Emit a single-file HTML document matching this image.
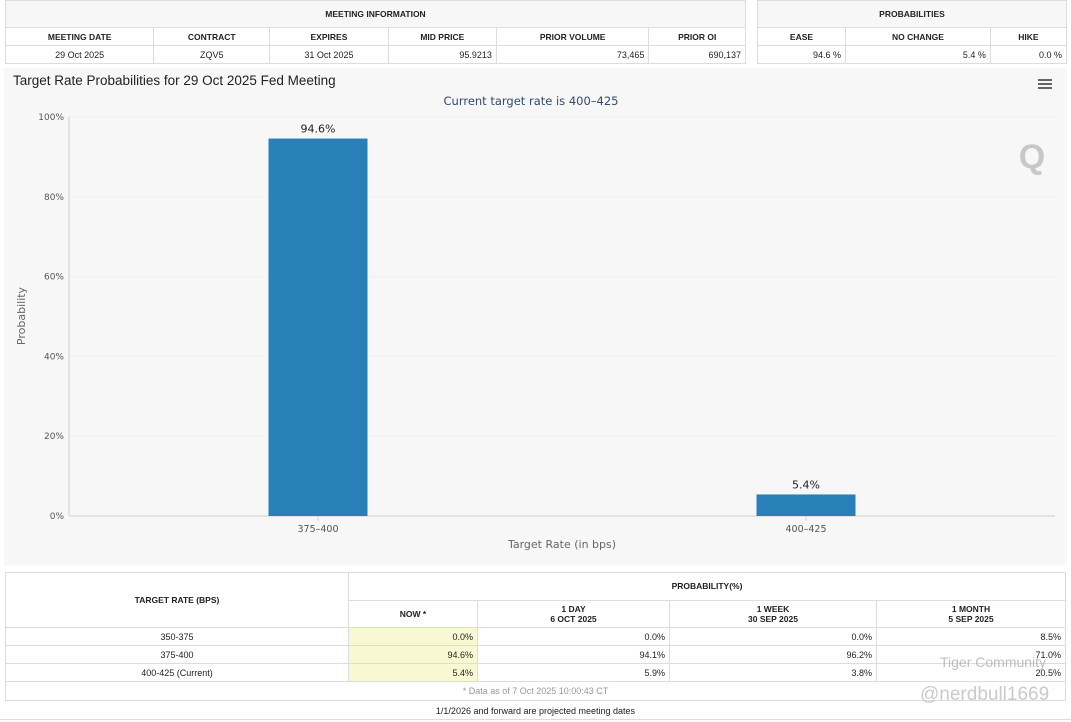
<!DOCTYPE html>
<html><head><meta charset="utf-8">
<style>
body{margin:0;width:1071px;height:722px;background:#fff;font-family:"Liberation Sans",Arial,sans-serif;position:relative;overflow:hidden}
table{border-collapse:collapse;position:absolute;font-size:9px;color:#222}
td{border:1px solid #ddd;padding:0 4px;height:17px}
.h{font-weight:bold;text-align:center;background:#fff;font-size:8.5px}
.r{text-align:right}.c{text-align:center}
.now{background:#f8f8d3}
#chart{position:absolute;left:4px;top:68px;width:1063px;height:497px;background:#f7f7f7}
</style></head><body>
<table style="left:5px;top:0;width:741px">
<tr><td class="h" colspan="6" style="height:26px;background:#f7f7f7">MEETING INFORMATION</td></tr>
<tr><td class="h">MEETING DATE</td><td class="h">CONTRACT</td><td class="h">EXPIRES</td><td class="h">MID PRICE</td><td class="h">PRIOR VOLUME</td><td class="h">PRIOR OI</td></tr>
<tr><td class="c">29 Oct 2025</td><td class="c">ZQV5</td><td class="c">31 Oct 2025</td><td class="r">95.9213</td><td class="r">73,465</td><td class="r">690,137</td></tr>
</table>
<table style="left:757px;top:0;width:310px">
<tr><td class="h" colspan="3" style="height:26px;background:#f7f7f7">PROBABILITIES</td></tr>
<tr><td class="h">EASE</td><td class="h">NO CHANGE</td><td class="h">HIKE</td></tr>
<tr><td class="r">94.6 %</td><td class="r">5.4 %</td><td class="r">0.0 %</td></tr>
</table>
<div id="chart">
<svg width="1063" height="497" id="svg" style="font-family:'DejaVu Sans',sans-serif">
<text x="9" y="17" font-size="13.5" fill="#222" font-family="Liberation Sans">Target Rate Probabilities for 29 Oct 2025 Fed Meeting</text>
<g><rect x="1034" y="11" width="14" height="2" fill="#666"/><rect x="1034" y="15" width="14" height="2" fill="#666"/><rect x="1034" y="19" width="14" height="2" fill="#666"/></g>
<text x="527" y="37" font-size="11.5" fill="#334a6b" text-anchor="middle">Current target rate is 400–425</text>
<text x="1028" y="100" font-size="34" font-weight="bold" fill="#c8c8c8" text-anchor="middle" font-family="Liberation Sans">Q</text>
<text transform="translate(21,248) rotate(-90)" font-size="11" fill="#666" text-anchor="middle">Probability</text>
<text x="558" y="480" font-size="11" fill="#666" text-anchor="middle">Target Rate (in bps)</text>
<g id="plot"></g>
</svg></div>
<table style="left:5px;top:572px;width:1061px">
<tr><td class="h" rowspan="2" style="width:334px;height:54px">TARGET RATE (BPS)</td><td class="h" colspan="4" style="height:26px">PROBABILITY(%)</td></tr>
<tr><td class="h" style="width:120px;height:26px">NOW *</td><td class="h" style="width:183px">1 DAY<br>6 OCT 2025</td><td class="h" style="width:198px">1 WEEK<br>30 SEP 2025</td><td class="h">1 MONTH<br>5 SEP 2025</td></tr>
<tr><td class="c">350-375</td><td class="r now">0.0%</td><td class="r">0.0%</td><td class="r">0.0%</td><td class="r">8.5%</td></tr>
<tr><td class="c">375-400</td><td class="r now">94.6%</td><td class="r">94.1%</td><td class="r">96.2%</td><td class="r">71.0%</td></tr>
<tr><td class="c">400-425 (Current)</td><td class="r now">5.4%</td><td class="r">5.9%</td><td class="r">3.8%</td><td class="r">20.5%</td></tr>
<tr><td colspan="5" class="c" style="color:#999;height:18px">* Data as of 7 Oct 2025 10:00:43 CT</td></tr>
</table>
<div style="position:absolute;left:0;top:706px;width:1071px;text-align:center;font-size:9px;color:#222">1/1/2026 and forward are projected meeting dates</div>
<div style="position:absolute;left:0;top:719px;width:1071px;border-top:1px solid #ddd"></div>
<div style="position:absolute;left:940px;top:654px;font-size:14px;color:rgba(150,150,150,.6)">Tiger Community</div>
<div style="position:absolute;left:920px;top:684px;font-size:19px;color:rgba(180,180,180,.7)">@nerdbull1669</div>
<script>
const categories=["375-400","400-425"];
const probValues=[94.6,5.4];
const valueLabels=["94.6%","5.4%"];
const yTicks=[0,20,40,60,80,100];
const yTickLabels=["0%","20%","40%","60%","80%","100%"];
const NS="http://www.w3.org/2000/svg";
const g=document.getElementById('plot');
const L=66,R=1051,T=49,B=448;
const BL=70,BR=1046;
const y=v=>B-(v/100)*(B-T);
const band=(BR-BL)/categories.length;
const x=i=>BL+band*(i+0.5);
function mk(t,a){const e=document.createElementNS(NS,t);for(const k in a)e.setAttribute(k,a[k]);g.appendChild(e);return e;}
yTicks.forEach((v,i)=>{
  const gl=mk('line',{x1:L,x2:R,y1:y(v),y2:y(v),stroke:v===0?'#ccc':'#ddd','stroke-dasharray':v===0?'':'1,3'});
  
  
  const t=mk('text',{x:L-6,y:y(v)+3,'font-size':9,fill:'#555','text-anchor':'end'});
  t.textContent=yTickLabels[i];
  
  
});
const ax=mk('line',{x1:L-1,x2:L-1,y1:T,y2:B,stroke:'#ccc'});


categories.forEach((c,i)=>{
  const w=99;
  const b=mk('rect',{x:x(i)-w/2,y:y(probValues[i]),width:w,height:B-y(probValues[i]),fill:'#2980b9'});
  
  
  const lt=mk('text',{x:x(i),y:y(probValues[i])-6,'font-size':11,fill:'#222','text-anchor':'middle'});
  lt.textContent=valueLabels[i];
  
  
  const tk=mk('line',{x1:x(i),x2:x(i),y1:B,y2:B+5,stroke:'#ccc'});
  
  
  const xt=mk('text',{x:x(i),y:B+16,'font-size':9.5,fill:'#555','text-anchor':'middle'});
  xt.textContent=c.replace('-','–');
  
  
});
</script>
</body></html>
